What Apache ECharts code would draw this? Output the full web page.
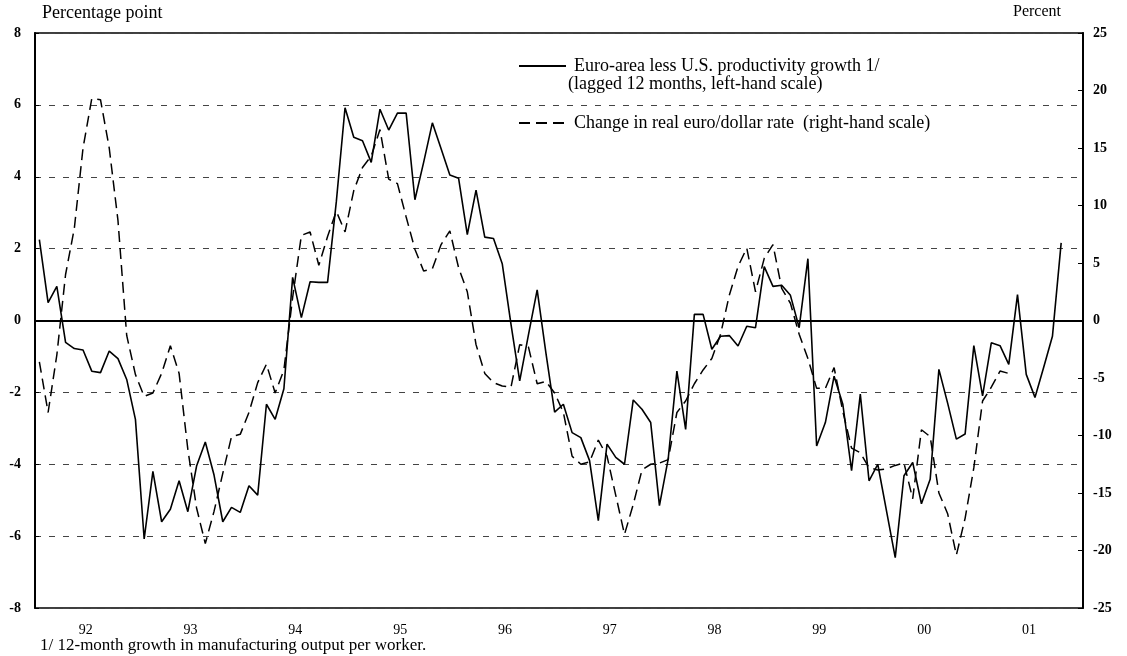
<!DOCTYPE html>
<html>
<head>
<meta charset="utf-8">
<title>Productivity growth and the euro</title>
<script src="https://cdn.jsdelivr.net/npm/echarts@6/dist/echarts.min.js"></script>
<style>
  html, body { margin: 0; padding: 0; background: #fff; }
  #container { width: 1127px; height: 656px; }
</style>
</head>
<body>
<div id="container"></div>
<script>
// year labels, one category per month
var years = ['92', '93', '94', '95', '96', '97', '98', '99', '00', '01'];
var monthNames = ['Jan', 'Feb', 'Mar', 'Apr', 'May', 'Jun', 'Jul', 'Aug', 'Sep', 'Oct', 'Nov', 'Dec'];
var months = [];
for (var y = 0; y < years.length; y++) {
    for (var m = 0; m < 12; m++) {
        months.push(monthNames[m] + ' ' + years[y]);
    }
}

var seriesNames = [
    'Euro-area less U.S. productivity growth 1/',
    'Change in real euro/dollar rate  (right-hand scale)'
];

// left-hand scale, percentage points (lagged 12 months)
var productivityGap = [
    2.25, 0.5, 0.95, -0.61, -0.78, -0.82, -1.41, -1.45, -0.85, -1.06, -1.64, -2.75,
    -6.08, -4.2, -5.6, -5.25, -4.46, -5.32, -4.05, -3.38, -4.3, -5.6, -5.2, -5.34,
    -4.6, -4.86, -2.33, -2.75, -1.9, 1.2, 0.08, 1.08, 1.06, 1.06, 3.3, 5.92,
    5.1, 5.0, 4.4, 5.88, 5.3, 5.77, 5.77, 3.36, 4.4, 5.5, 4.78, 4.05,
    3.96, 2.39, 3.63, 2.32, 2.28, 1.58, -0.1, -1.68, -0.4, 0.85, -0.9, -2.55,
    -2.33, -3.12, -3.26, -3.9, -5.57, -3.44, -3.81, -4.0, -2.21, -2.47, -2.84, -5.15,
    -3.86, -1.41, -3.03, 0.17, 0.17, -0.8, -0.44, -0.42, -0.71, -0.16, -0.2, 1.5,
    0.95, 0.98, 0.7, -0.2, 1.72, -3.49, -2.84, -1.55, -2.33, -4.18, -2.05, -4.46,
    -4.0, -5.3, -6.6, -4.32, -3.95, -5.1, -4.42, -1.36, -2.3, -3.3, -3.16, -0.7,
    -2.1, -0.62, -0.7, -1.22, 0.72, -1.5, -2.14, -1.3, -0.44, 2.16, null, null
];

// right-hand scale, percent
var euroDollarChange = [
    -3.6, -8.0, -3.0, 4.0, 8.0, 15.0, 19.3, 19.2, 15.0, 8.7, -1.3, -4.7,
    -6.6, -6.3, -4.6, -2.2, -4.6, -11.2, -16.3, -19.4, -16.6, -13.3, -10.1, -9.9,
    -8.0, -5.4, -3.8, -6.3, -4.3, 2.0, 7.4, 7.7, 4.8, 7.3, 9.5, 7.7,
    11.3, 13.3, 14.3, 16.6, 12.3, 11.9, 9.0, 6.2, 4.3, 4.5, 6.6, 7.8,
    4.6, 2.5, -2.1, -4.6, -5.4, -5.7, -5.8, -2.1, -2.3, -5.5, -5.3, -6.3,
    -8.0, -11.8, -12.5, -12.3, -10.4, -11.8, -15.2, -18.6, -16.0, -13.0, -12.5, -12.4,
    -12.1, -8.0, -7.0, -5.5, -4.3, -3.3, -1.2, 2.2, 4.7, 6.3, 2.5, 5.4,
    6.6, 2.8, 1.5, -1.2, -3.3, -5.9, -5.9, -4.1, -7.9, -11.1, -11.5, -12.8,
    -13.0, -12.9, -12.6, -12.4, -15.5, -9.5, -10.1, -15.0, -16.8, -20.4, -17.2, -12.8,
    -7.0, -5.8, -4.4, -4.6, null, null, null, null, null, null, null, null
];

var font = 'Liberation Serif';

var dom = document.getElementById('container');
var myChart = echarts.init(dom);

var option = {
    backgroundColor: '#fff',
    animation: false,
    textStyle: { fontFamily: font, color: '#000' },
    grid: {
        left: 35, right: 44, top: 33, bottom: 48,
        show: true, borderColor: '#000', borderWidth: 1.5
    },
    legend: [{
        data: [seriesNames[0]],
        left: 513, top: 52,
        itemWidth: 47, itemHeight: 14,
        itemStyle: { opacity: 0 },
        textStyle: { fontFamily: font, fontSize: 18, color: '#000', padding: [0, 0, 0, 3] }
    }, {
        data: [seriesNames[1]],
        left: 513, top: 109,
        itemWidth: 47, itemHeight: 14,
        itemStyle: { opacity: 0 },
        textStyle: { fontFamily: font, fontSize: 18, color: '#000', padding: [0, 0, 0, 3] }
    }],
    graphic: [
        { type: 'text', left: 42, top: 4, style: { text: 'Percentage point', font: '18px "Liberation Serif"', fill: '#000' } },
        { type: 'text', left: 1013, top: 4, style: { text: 'Percent', font: '16px "Liberation Serif"', fill: '#000' } },
        { type: 'text', left: 568, top: 75, style: { text: '(lagged 12 months, left-hand scale)', font: '18px "Liberation Serif"', fill: '#000' } },
        { type: 'text', left: 40, top: 637, style: { text: '1/ 12-month growth in manufacturing output per worker.', font: '17px "Liberation Serif"', fill: '#000' } }
    ],
    xAxis: {
        type: 'category',
        data: months,
        boundaryGap: true,
        axisLine: { lineStyle: { color: '#000', width: 2 } },
        axisTick: {
            inside: true, length: 5,
            interval: function (i) { return i % 12 === 0; },
            lineStyle: { color: '#000', width: 1.5 }
        },
        axisLabel: {
            interval: function (i) { return i % 12 === 6; },
            formatter: function (v) { return v.slice(-2); },
            fontFamily: font, fontSize: 14, color: '#000',
            margin: 15, padding: [0, 12, 0, 0]
        },
        splitLine: { show: false }
    },
    yAxis: [{
        type: 'value',
        position: 'left',
        min: -8, max: 8, interval: 2,
        axisLine: { show: true, lineStyle: { color: '#000', width: 2 } },
        axisTick: { show: true, inside: true, length: 4, lineStyle: { color: '#000' } },
        axisLabel: { fontFamily: font, fontSize: 14, fontWeight: 'bold', color: '#000', margin: 14 },
        splitLine: { show: true, lineStyle: { color: '#444', width: 1, type: [6, 8] } }
    }, {
        type: 'value',
        position: 'right',
        min: -25, max: 25, interval: 5,
        axisLine: { show: true, lineStyle: { color: '#000', width: 2 } },
        axisTick: { show: true, inside: true, length: 5, lineStyle: { color: '#000' } },
        axisLabel: { fontFamily: font, fontSize: 14, fontWeight: 'bold', color: '#000', margin: 10 },
        splitLine: { show: false }
    }],
    series: [{
        name: seriesNames[0],
        type: 'line',
        yAxisIndex: 0,
        data: productivityGap,
        symbol: 'none',
        lineStyle: { color: '#000', width: 1.6 },
        itemStyle: { color: '#000' },
        z: 3
    }, {
        name: seriesNames[1],
        type: 'line',
        yAxisIndex: 1,
        data: euroDollarChange,
        symbol: 'none',
        lineStyle: { color: '#000', width: 1.5, type: [11, 6] },
        itemStyle: { color: '#000' },
        markLine: {
            silent: true,
            symbol: 'none',
            label: { show: false },
            lineStyle: { color: '#000', width: 1.5, type: 'solid' },
            data: [{ yAxis: 0 }]
        },
        z: 2
    }]
};

myChart.setOption(option, true);
</script>
</body>
</html>
